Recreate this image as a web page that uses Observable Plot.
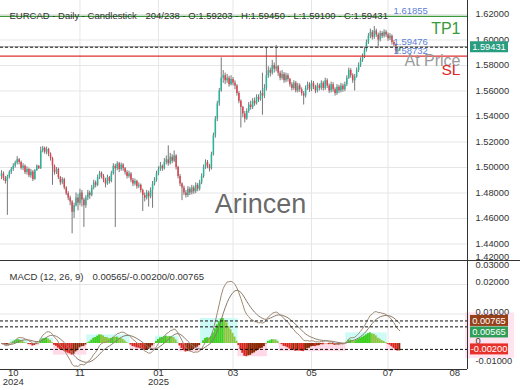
<!DOCTYPE html>
<html><head><meta charset="utf-8">
<script src="https://cdn.jsdelivr.net/npm/d3@7"></script>
<script src="https://cdn.jsdelivr.net/npm/@observablehq/plot@0.6"></script>
<style>
html,body{margin:0;padding:0;background:#fff;}
#chart{position:relative;width:520px;height:390px;}
#chart svg{display:block;}
</style></head><body><div id="chart"></div>
<script>
const opens=[1.4930,1.4950,1.4915,1.4890,1.4925,1.4960,1.4985,1.5010,1.5035,1.5060,
1.5040,1.4995,1.5010,1.4960,1.4985,1.4935,1.4965,1.4905,1.4975,1.5010,
1.4990,1.5130,1.5150,1.5120,1.5140,1.5105,1.5070,1.5010,1.4960,1.4985,
1.4920,1.4880,1.4905,1.4840,1.4795,1.4760,1.4730,1.4650,1.4700,1.4760,
1.4720,1.4800,1.4745,1.4700,1.4760,1.4800,1.4780,1.4840,1.4880,1.4860,
1.4920,1.4955,1.4930,1.4900,1.4870,1.4920,1.4890,1.4950,1.5010,1.4990,
1.5030,1.4985,1.5020,1.4990,1.4960,1.4930,1.4950,1.4900,1.4870,1.4890,
1.4850,1.4860,1.4820,1.4780,1.4760,1.4800,1.4770,1.4820,1.4870,1.4900,
1.4950,1.4985,1.5010,1.4990,1.5040,1.5060,1.5030,1.5080,1.5050,1.5090,
1.5000,1.4930,1.4870,1.4840,1.4800,1.4780,1.4830,1.4800,1.4840,1.4810,
1.4860,1.4830,1.4880,1.4930,1.5000,1.5040,1.5010,1.4990,1.5100,1.5250,
1.5380,1.5500,1.5600,1.5700,1.5720,1.5680,1.5700,1.5650,1.5690,1.5660,
1.5640,1.5580,1.5520,1.5470,1.5420,1.5380,1.5440,1.5490,1.5470,1.5520,
1.5500,1.5550,1.5530,1.5580,1.5560,1.5620,1.5720,1.5760,1.5740,1.5800,
1.5770,1.5790,1.5740,1.5700,1.5730,1.5680,1.5720,1.5690,1.5650,1.5620,
1.5660,1.5600,1.5640,1.5610,1.5580,1.5560,1.5620,1.5650,1.5610,1.5660,
1.5630,1.5600,1.5640,1.5620,1.5660,1.5620,1.5680,1.5640,1.5600,1.5650,
1.5610,1.5580,1.5630,1.5600,1.5640,1.5610,1.5650,1.5700,1.5760,1.5720,
1.5680,1.5710,1.5760,1.5800,1.5840,1.5870,1.5920,1.5980,1.6030,1.6060,
1.6020,1.6070,1.6040,1.6000,1.6050,1.6030,1.6060,1.6040,1.6010,1.6030,
1.5980,1.5960,1.5910,1.59203];
const highs=[1.4975,1.4965,1.4930,1.4940,1.4975,1.5000,1.5030,1.5050,1.5085,1.5070,
1.5050,1.5030,1.5020,1.5005,1.4995,1.4985,1.4975,1.4985,1.5020,1.5015,
1.5160,1.5165,1.5160,1.5160,1.5150,1.5115,1.5080,1.5020,1.5000,1.4995,
1.4930,1.4920,1.4915,1.4850,1.4810,1.4775,1.4740,1.4720,1.4800,1.4790,
1.4830,1.4820,1.4760,1.4780,1.4820,1.4815,1.4860,1.4900,1.4895,1.4940,
1.4970,1.4965,1.4945,1.4915,1.4940,1.4930,1.4970,1.5030,1.5025,1.5045,
1.5040,1.5035,1.5030,1.5000,1.4975,1.4970,1.4960,1.4915,1.4910,1.4900,
1.4880,1.4870,1.4830,1.4800,1.4820,1.4815,1.4840,1.4890,1.4920,1.4970,
1.5005,1.5040,1.5020,1.5070,1.5090,1.5170,1.5110,1.5100,1.5130,1.5100,
1.5010,1.4945,1.4880,1.4855,1.4820,1.4850,1.4845,1.4860,1.4855,1.4880,
1.4875,1.4900,1.4950,1.5020,1.5060,1.5055,1.5025,1.5120,1.5270,1.5400,
1.5520,1.5620,1.5860,1.5760,1.5740,1.5730,1.5715,1.5720,1.5705,1.5680,
1.5650,1.5595,1.5530,1.5480,1.5440,1.5460,1.5510,1.5520,1.5540,1.5545,
1.5570,1.5570,1.5600,1.5740,1.5650,1.5940,1.5790,1.5780,1.5840,1.5820,
1.5957,1.5800,1.5755,1.5760,1.5745,1.5740,1.5735,1.5700,1.5665,1.5680,
1.5675,1.5660,1.5655,1.5625,1.5595,1.5640,1.5670,1.5665,1.5680,1.5675,
1.5645,1.5660,1.5655,1.5680,1.5675,1.5700,1.5695,1.5655,1.5670,1.5665,
1.5625,1.5650,1.5645,1.5660,1.5655,1.5670,1.5720,1.5780,1.5775,1.5735,
1.5730,1.5780,1.5820,1.5860,1.5890,1.5940,1.6000,1.6050,1.6085,1.6075,
1.6106,1.6085,1.6055,1.6070,1.6065,1.6080,1.6075,1.6055,1.6050,1.6040,
1.5995,1.5970,1.5935,1.59450];
const lows=[1.4905,1.4895,1.4870,1.4625,1.4910,1.4945,1.4970,1.4995,1.5020,1.5020,
1.4980,1.4975,1.4945,1.4940,1.4920,1.4915,1.4890,1.4900,1.4970,1.4985,
1.4985,1.5115,1.5105,1.5100,1.5085,1.5050,1.4860,1.4940,1.4945,1.4905,
1.4860,1.4865,1.4825,1.4780,1.4740,1.4700,1.4480,1.4600,1.4690,1.4660,
1.4700,1.4690,1.4530,1.4680,1.4740,1.4750,1.4770,1.4825,1.4840,1.4850,
1.4905,1.4910,1.4880,1.4840,1.4860,1.4870,1.4880,1.4940,1.4530,1.4975,
1.4960,1.4970,1.4970,1.4940,1.4910,1.4915,1.4880,1.4850,1.4855,1.4830,
1.4835,1.4800,1.4655,1.4730,1.4745,1.4690,1.4755,1.4680,1.4855,1.4885,
1.4935,1.4970,1.4970,1.4980,1.5020,1.5010,1.5020,1.5030,1.5040,1.4980,
1.4910,1.4850,1.4740,1.4780,1.4760,1.4765,1.4780,1.4785,1.4790,1.4795,
1.4810,1.4815,1.4865,1.4915,1.4985,1.4990,1.4965,1.4980,1.5090,1.5230,
1.5360,1.5480,1.5590,1.5660,1.5650,1.5660,1.5630,1.5640,1.5640,1.5610,
1.5560,1.5500,1.5310,1.5390,1.5350,1.5370,1.5425,1.5450,1.5455,1.5480,
1.5490,1.5510,1.5520,1.5410,1.5540,1.5600,1.5700,1.5710,1.5725,1.5740,
1.5750,1.5715,1.5680,1.5685,1.5660,1.5665,1.5670,1.5630,1.5600,1.5605,
1.5585,1.5585,1.5590,1.5560,1.5490,1.5545,1.5605,1.5590,1.5595,1.5610,
1.5580,1.5585,1.5600,1.5605,1.5600,1.5605,1.5620,1.5580,1.5585,1.5590,
1.5560,1.5565,1.5580,1.5585,1.5590,1.5595,1.5635,1.5690,1.5700,1.5660,
1.5600,1.5700,1.5745,1.5785,1.5825,1.5855,1.5905,1.5965,1.6010,1.6000,
1.6005,1.6020,1.5933,1.5985,1.6010,1.6015,1.6020,1.5990,1.5995,1.5960,
1.5940,1.5890,1.5895,1.59100];
const closes=[1.4950,1.4915,1.4890,1.4925,1.4960,1.4985,1.5010,1.5035,1.5060,1.5040,
1.4995,1.5010,1.4960,1.4985,1.4935,1.4965,1.4905,1.4975,1.5010,1.4990,
1.5130,1.5150,1.5120,1.5140,1.5105,1.5070,1.5010,1.4960,1.4985,1.4920,
1.4880,1.4905,1.4840,1.4795,1.4760,1.4730,1.4650,1.4700,1.4760,1.4720,
1.4800,1.4745,1.4700,1.4760,1.4800,1.4780,1.4840,1.4880,1.4860,1.4920,
1.4955,1.4930,1.4900,1.4870,1.4920,1.4890,1.4950,1.5010,1.4990,1.5030,
1.4985,1.5020,1.4990,1.4960,1.4930,1.4950,1.4900,1.4870,1.4890,1.4850,
1.4860,1.4820,1.4780,1.4760,1.4800,1.4770,1.4820,1.4870,1.4900,1.4950,
1.4985,1.5010,1.4990,1.5040,1.5060,1.5030,1.5080,1.5050,1.5090,1.5000,
1.4930,1.4870,1.4840,1.4800,1.4780,1.4830,1.4800,1.4840,1.4810,1.4860,
1.4830,1.4880,1.4930,1.5000,1.5040,1.5010,1.4990,1.5100,1.5250,1.5380,
1.5500,1.5600,1.5700,1.5720,1.5680,1.5700,1.5650,1.5690,1.5660,1.5640,
1.5580,1.5520,1.5470,1.5420,1.5380,1.5440,1.5490,1.5470,1.5520,1.5500,
1.5550,1.5530,1.5580,1.5560,1.5620,1.5720,1.5760,1.5740,1.5800,1.5770,
1.5790,1.5740,1.5700,1.5730,1.5680,1.5720,1.5690,1.5650,1.5620,1.5660,
1.5600,1.5640,1.5610,1.5580,1.5560,1.5620,1.5650,1.5610,1.5660,1.5630,
1.5600,1.5640,1.5620,1.5660,1.5620,1.5680,1.5640,1.5600,1.5650,1.5610,
1.5580,1.5630,1.5600,1.5640,1.5610,1.5650,1.5700,1.5760,1.5720,1.5680,
1.5710,1.5760,1.5800,1.5840,1.5870,1.5920,1.5980,1.6030,1.6060,1.6020,
1.6070,1.6040,1.6000,1.6050,1.6030,1.6060,1.6040,1.6010,1.6030,1.5980,
1.5960,1.5910,1.5920,1.59431];

const totalSlots = 238;
const monthLabels = ["10","11","01","03","05","07","08"];
const yearLabels  = ["2024","","2025","","","",""];
const monthIndex  = [6,40,80,118,158,197,231];
const gridMonthIndex = [40,80,118,158,197];
const priceTicks = [1.44,1.46,1.48,1.50,1.52,1.54,1.56,1.58,1.60,1.62];
const macdTicks = [0.02,0.01,0];
const tp1Level = 1.61855, entryLevel = 1.59476, slLevel = 1.58732, lastPrice = 1.59431;
const macdLast = 0.00565, histLast = -0.00200, signalLast = 0.00765;
const titleA = "EURCAD - Daily - Candlestick";
const titleB = "204/238 - O:1.59203 - H:1.59450 - L:1.59100 - C:1.59431";
const macdTitleA = "MACD (12, 26, 9)";
const macdTitleB = "0.00565/-0.00200/0.00765";

const FONT = "'Liberation Sans', Arial, Helvetica, sans-serif";
const xDomain = [-0.5, totalSlots - 0.5];
const priceDomain = [1.42706, 1.63098];
const macdDomain = [-0.00881, 0.02814];
const GRID = "#e6e6e6";

const candles = closes.map((c,i)=>({i, o:opens[i], h:highs[i], l:lows[i], c}));

// MACD (12,26,9) from closes
function ema(vals, n){ const k = 2/(n+1); let e = vals[0]; return vals.map(v => (e = v*k + e*(1-k))); }
const e12 = ema(closes,12), e26 = ema(closes,26);
const macdLine = closes.map((_,i)=>e12[i]-e26[i]);
const signalLine = ema(macdLine, 9);
const histVals = macdLine.map((m,i)=>m - signalLine[i]);
const segExt = new Array(histVals.length);
let s0 = 0;
for (let i=1;i<=histVals.length;i++){
  if (i===histVals.length || Math.sign(histVals[i]) !== Math.sign(histVals[s0])){
    const ext = d3.max(histVals.slice(s0,i), v=>Math.abs(v));
    for (let j=s0;j<i;j++) segExt[j] = (histVals[s0] >= 0 ? 1 : -1) * ext;
    s0 = i;
  }
}
const macdRows = closes.map((_,i)=>({i, m:macdLine[i], s:signalLine[i], h:histVals[i], p: i? histVals[i-1] : 0, ext: segExt[i]}));
const histColor = d => d.h >= 0 ? (d.h >= d.p ? "#3fcf22" : "#8cc63f") : (d.h <= d.p ? "#d9261c" : "#8c2a08");
const months = monthIndex.map((i,k)=>({i, m:monthLabels[k], y:yearLabels[k]}));

const main = Plot.plot({
  width:520, height:260, marginLeft:0, marginRight:53, marginTop:0, marginBottom:0,
  style:{fontFamily:FONT, fontSize:"9.3px", color:"#333", background:"#fff"},
  x:{domain:xDomain, axis:null},
  y:{domain:priceDomain, axis:null},
  marks:[
    Plot.gridY(priceTicks, {stroke:GRID, strokeOpacity:1}),
    Plot.gridX(gridMonthIndex, {stroke:GRID, strokeOpacity:1}),
    Plot.axisY(priceTicks, {anchor:"right", tickSize:0, tickPadding:8, label:null, tickFormat:d3.format(".5f"), fill:"#333", fontSize:9.3}),
    Plot.text(["1.42000"], {text:d=>d, frameAnchor:"bottom-right", dx:8, dy:-1, textAnchor:"start", fill:"#333", fontSize:9.3}),
    Plot.ruleX(candles, {x:"i", y1:"l", y2:"h", stroke:"#777", strokeWidth:1}),
    Plot.ruleX(candles, {x:"i", y1:"o", y2:"c", stroke:d=>d.c>=d.o?"#2bb39a":"#e0404c", strokeWidth:1.5}),
    Plot.ruleY([tp1Level], {stroke:"#3a993a", strokeWidth:1.2}),
    Plot.ruleY([entryLevel], {stroke:"#aaa", strokeWidth:1}),
    Plot.ruleY([lastPrice], {stroke:"#222", strokeWidth:1.2, strokeDasharray:"3,2"}),
    Plot.ruleY([slLevel], {stroke:"#e03030", strokeWidth:1.2}),
    Plot.text([tp1Level, entryLevel, slLevel], {y:d=>d, text:d=>d.toFixed(5), frameAnchor:"right", dx:-74, dy:-5, textAnchor:"start", fill:"#5b7fd4", fontSize:9.5}),
    Plot.text([tp1Level], {y:d=>d, text:()=>"TP1", frameAnchor:"right", dx:-7, dy:13, textAnchor:"end", fill:"#3a993a", fontSize:16}),
    Plot.text([entryLevel], {y:d=>d, text:()=>"At Price", frameAnchor:"right", dx:-7, dy:14, textAnchor:"end", fill:"#999", fontSize:16}),
    Plot.text([slLevel], {y:d=>d, text:()=>"SL", frameAnchor:"right", dx:-7, dy:14, textAnchor:"end", fill:"#e02424", fontSize:15.5}),
    Plot.text([titleA], {text:d=>d, frameAnchor:"top-left", dx:9, dy:12, textAnchor:"start", fill:"#333", fontSize:9.5}),
    Plot.text([titleB], {text:d=>d, frameAnchor:"top-left", dx:145, dy:12, textAnchor:"start", fill:"#333", fontSize:9.5}),
    Plot.text(["Arincen"], {text:d=>d, frameAnchor:"top-left", dx:260, dy:193, textAnchor:"middle", fill:"#555", fillOpacity:0.9, fontSize:27}),
    Plot.ruleX([xDomain[1]], {stroke:"#333", strokeWidth:1})
  ]
});

const macd = Plot.plot({
  width:520, height:130, marginLeft:0, marginRight:53, marginTop:0, marginBottom:21,
  style:{fontFamily:FONT, fontSize:"9.3px", color:"#333", background:"#fff"},
  x:{domain:xDomain, axis:null},
  y:{domain:macdDomain, axis:null},
  marks:[
    Plot.gridX(gridMonthIndex, {stroke:GRID, strokeOpacity:1}),
    Plot.gridY(macdTicks.slice(0,2), {stroke:GRID, strokeOpacity:1}),
    Plot.rect(macdRows, {x1:d=>d.i-0.5, x2:d=>d.i+0.5, y1:0, y2:"ext", fill:d=>d.h>=0?"#c9fbf6":"#ffd7e6"}),
    Plot.rect(macdRows, {x1:d=>d.i-0.5, x2:d=>d.i+0.5, y1:0, y2:"h", fill:histColor}),
    Plot.line(macdRows, {x:"i", y:"s", stroke:"#8a7a6a", strokeWidth:1}),
    Plot.line(macdRows, {x:"i", y:"m", stroke:"#a08a74", strokeWidth:1}),
    Plot.ruleY([signalLast, macdLast, histLast], {stroke:"#111", strokeWidth:1, strokeDasharray:"3,2"}),
    Plot.axisY(macdTicks, {anchor:"right", tickSize:0, tickPadding:8, label:null, tickFormat:d=>d===0?"0":d3.format(".5f")(d), fill:"#333", fontSize:9.3, dy:-2}),
    Plot.text(["0.03000"], {text:d=>d, frameAnchor:"top-right", dx:8, dy:1, textAnchor:"start", fill:"#333", fontSize:9.3}),
    Plot.text(["-0.01000"], {text:d=>d, frameAnchor:"bottom-right", dx:8, dy:-6, textAnchor:"start", fill:"#333", fontSize:9.3}),
    Plot.text([macdTitleA], {text:d=>d, frameAnchor:"top-left", dx:9, dy:13, textAnchor:"start", fill:"#333", fontSize:9.5}),
    Plot.text([macdTitleB], {text:d=>d, frameAnchor:"top-left", dx:92, dy:13, textAnchor:"start", fill:"#333", fontSize:9.5}),
    Plot.text(months, {x:"i", text:"m", frameAnchor:"bottom", dy:6, fill:"#333", fontSize:9.5}),
    Plot.text(months, {x:"i", text:"y", frameAnchor:"bottom", dy:15, fill:"#333", fontSize:9.5}),
    Plot.ruleX([xDomain[1]], {stroke:"#333", strokeWidth:1}),
    Plot.ruleY([macdDomain[0]], {stroke:"#333", strokeWidth:1})
  ]
});

function scaleFn(chart, name){
  const sc = chart.scale(name);
  return sc.apply ? (v => sc.apply(v)) : d3.scaleLinear(sc.domain, sc.range);
}
function badge(svg, yPx, bg, label){
  const g = d3.select(svg).append("g");
  g.append("rect").attr("x",470).attr("y",yPx-5.5).attr("width",38).attr("height",11).attr("fill",bg);
  g.append("text").attr("x",489).attr("y",yPx).attr("dy","0.35em").attr("text-anchor","middle")
    .attr("fill","#fff").attr("font-size",9.3).attr("font-family",FONT).text(label);
}
const yMain = scaleFn(main, "y");
badge(main, yMain(lastPrice), "#2a9d80", lastPrice.toFixed(5));

const yMacd = scaleFn(macd, "y");
const ySig = yMacd(signalLast), yHist = yMacd(histLast);
d3.select(macd).insert("rect", ":first-child").attr("x",465).attr("y",ySig-8).attr("width",49).attr("height",yHist-ySig+17).attr("fill","#ffe3ee");
d3.select(macd).insert("rect", ":first-child").attr("width",520).attr("height",130).attr("fill","#fff");
let prevY = -100;
[[signalLast,"#96401a"],[macdLast,"#2f9e58"],[histLast,"#e8302a"]].forEach(([v,c])=>{
  let y = Math.max(yMacd(v), prevY + 11.5);
  badge(macd, y, c, v.toFixed(5));
  prevY = y;
});
d3.select(macd).append("line").attr("x1",0).attr("x2",520).attr("y1",0.5).attr("y2",0.5).attr("stroke","#333");

document.getElementById("chart").append(main, macd);
</script></body></html>
